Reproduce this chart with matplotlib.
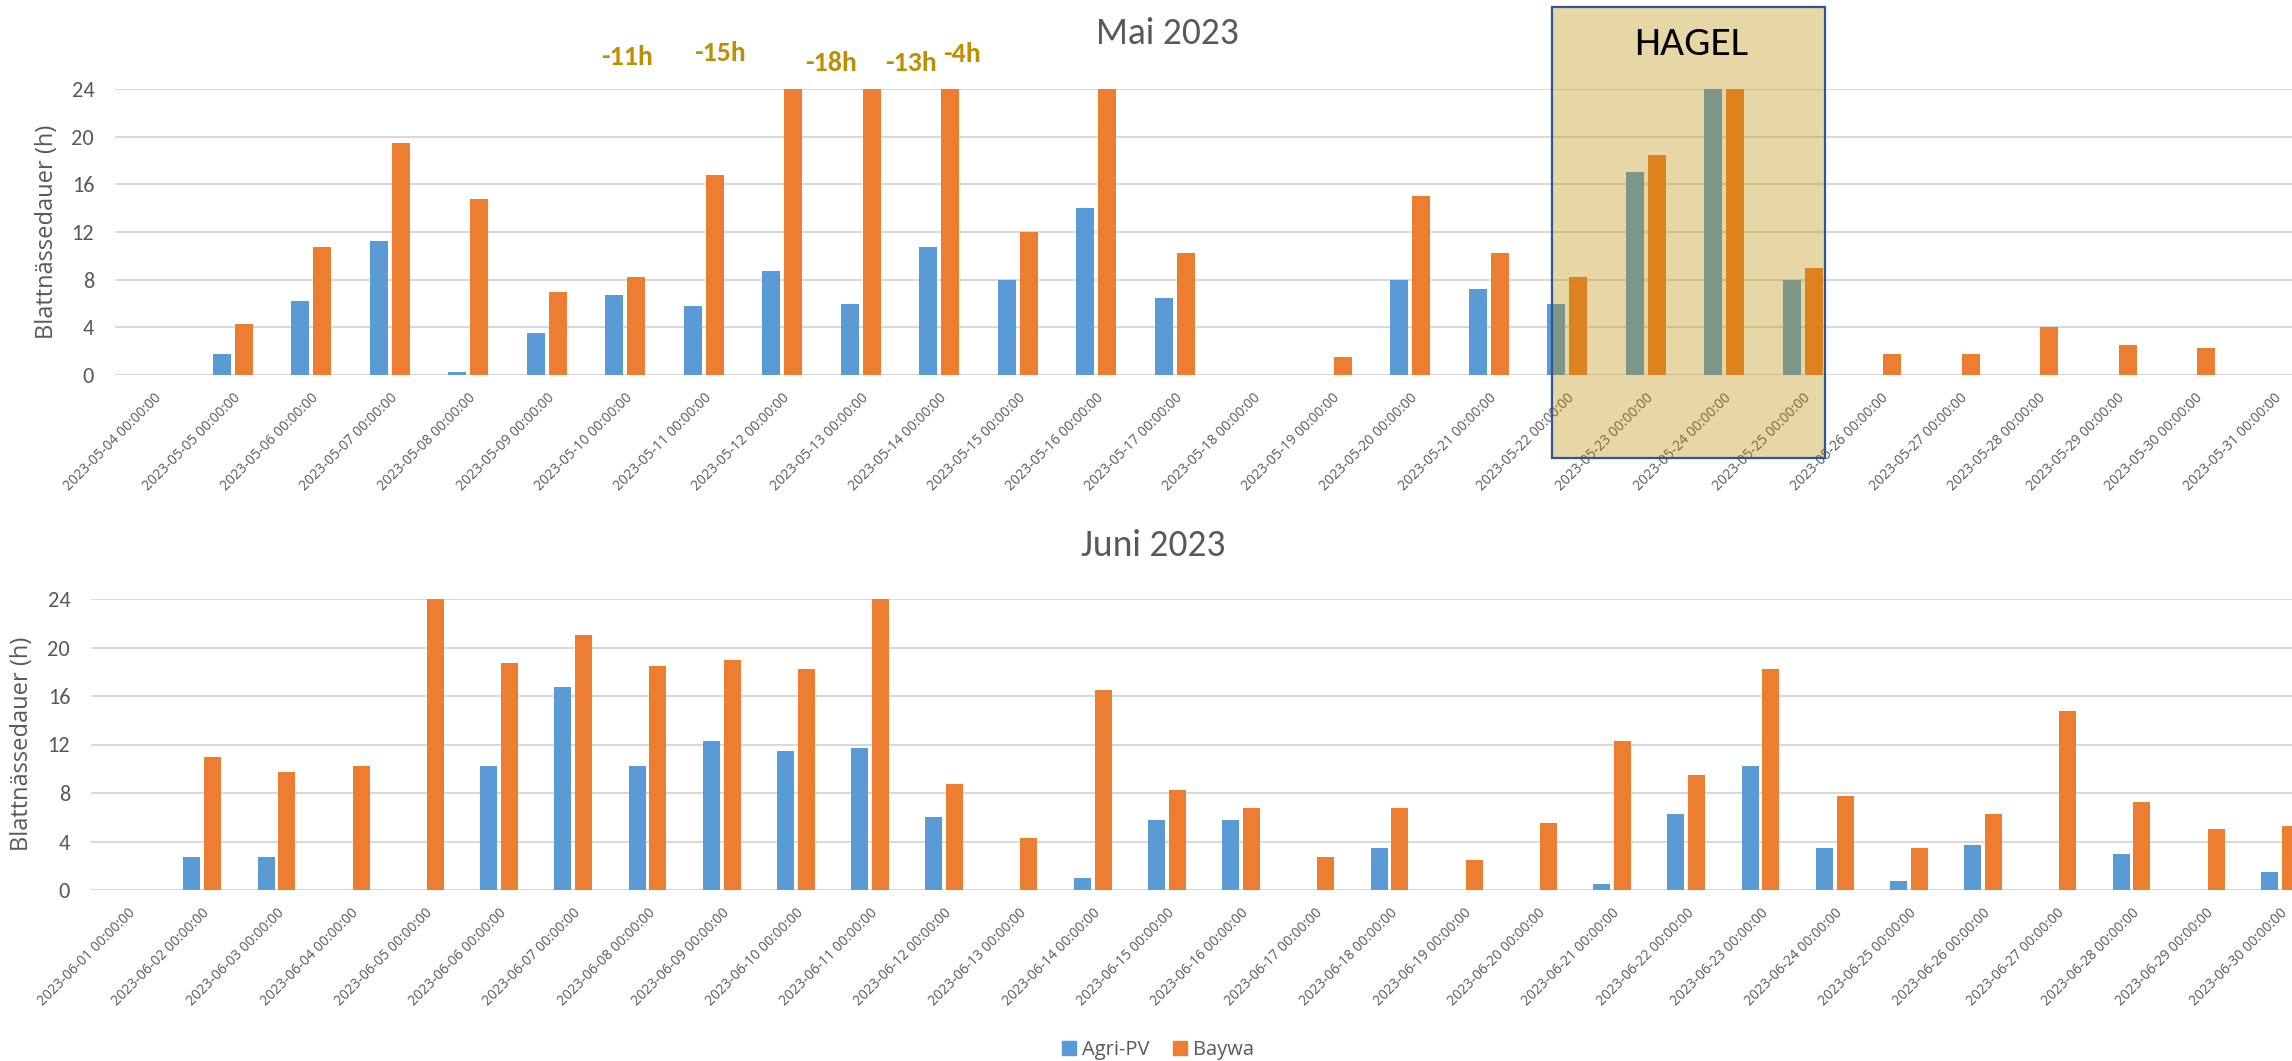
import numpy as np
import pandas as pd
import matplotlib
matplotlib.use("Agg")
import matplotlib.pyplot as plt
from matplotlib import font_manager
from matplotlib.patches import Rectangle, Patch
from matplotlib.transforms import blended_transform_factory

# ---------------------------------------------------------
# data  (Blattnässedauer in h)
# ---------------------------------------------------------
mai_days  = pd.date_range("2023-05-04", "2023-05-31", freq="D")
juni_days = pd.date_range("2023-06-01", "2023-06-30", freq="D")
mai_labels  = [d.strftime("%Y-%m-%d %H:%M:%S") for d in mai_days]
juni_labels = [d.strftime("%Y-%m-%d %H:%M:%S") for d in juni_days]

mai_agri  = [0, 1.75, 6.25, 11.25, 0.25, 3.5, 6.75, 5.75, 8.75, 6.0,
             10.75, 8.0, 14.0, 6.5, 0, 0, 8.0, 7.25, 6.0, 17.0,
             24, 8.0, 0, 0, 0, 0, 0, 0]
mai_baywa = [0, 4.25, 10.75, 19.5, 14.75, 7.0, 8.25, 16.75, 24, 24,
             24, 12.0, 24, 10.25, 0, 1.5, 15.0, 10.25, 8.25, 18.5,
             24, 9.0, 1.75, 1.75, 4.0, 2.5, 2.25, 0]

juni_agri  = [0, 2.75, 2.75, 0, 0, 10.25, 16.75, 10.25, 12.25, 11.5,
              11.75, 6.0, 0, 1.0, 5.75, 5.75, 0, 3.5, 0, 0,
              0.5, 6.25, 10.25, 3.5, 0.75, 3.75, 0, 3.0, 0, 1.5]
juni_baywa = [0, 11.0, 9.75, 10.25, 24, 18.75, 21.0, 18.5, 19.0, 18.25,
              24, 8.75, 4.25, 16.5, 8.25, 6.75, 2.75, 6.75, 2.5, 5.5,
              12.25, 9.5, 18.25, 7.75, 3.5, 6.25, 14.75, 7.25, 5.0, 5.25]

# time lost vs. Baywa, written above some May days
note_text = ["-11h", "-15h", "-18h", "-13h", "-4h"]

# ---------------------------------------------------------
# style / layout
# ---------------------------------------------------------
avail = {f.name for f in font_manager.fontManager.ttflist}
def pick(*names):
    return next((n for n in names if n in avail), "DejaVu Sans")

CAL  = pick("Carlito", "Lato", "Open Sans")      # Calibri look-alike
SEG  = pick("Open Sans", "Noto Sans", "DejaVu Sans")  # Segoe look-alike

BLUE, ORANGE = "#5B9BD5", "#ED7D31"
GREY, GRID   = "#595959", "#D9D9D9"
GOLD, FRAME  = "#BF8F00", "#2F5597"

W, H = 2292, 1061
fig = plt.figure(figsize=(W / 100, H / 100), dpi=100)

def px_axes(left, right, top, bottom):
    return fig.add_axes([left / W, 1 - bottom / H,
                         (right - left) / W, (bottom - top) / H])

def bars(ax, agri, baywa, labels):
    x = np.arange(len(labels))
    ax.bar(x - 0.14, agri,  width=0.23, color=BLUE,   zorder=3)
    ax.bar(x + 0.14, baywa, width=0.23, color=ORANGE, zorder=3)
    ax.set_xlim(-0.5, len(labels) - 0.5)
    ax.set_ylim(0, 24)
    ax.set_yticks(range(0, 25, 4))
    ax.set_xticks(x)
    ax.set_xticklabels(labels, rotation=45, ha="right", va="top",
                       rotation_mode="anchor", fontsize=10,
                       color=GREY, family=SEG)
    for t in ax.get_yticklabels():
        t.set_family(CAL); t.set_fontsize(16); t.set_color(GREY)
    ax.tick_params(axis="both", length=0)
    ax.tick_params(axis="x", pad=11)
    ax.tick_params(axis="y", pad=15)
    ax.grid(axis="y", color=GRID, linewidth=1.5, zorder=0)
    ax.set_axisbelow(True)
    for s in ax.spines.values():
        s.set_visible(False)
    ax.set_facecolor("none")

# ---------------------------------------------------------
# Mai
# ---------------------------------------------------------
ax1 = px_axes(115, 2313, 89, 375)
bars(ax1, mai_agri, mai_baywa, mai_labels)

note_x = [6.02, 7.20, 8.62, 9.64, 10.29]
note_y = [26.7, 27.0, 26.2, 26.2, 26.9]
for s, xx, yy in zip(note_text, note_x, note_y):
    ax1.text(xx, yy, s, ha="center", va="center", color=GOLD,
             fontsize=20, fontweight="bold", family=CAL, clip_on=False)

# hail period overlay (22.-25. Mai)
tr = blended_transform_factory(ax1.transData, fig.transFigure)
y0, y1 = 1 - 458 / H, 1 - 7 / H
ax1.add_patch(Rectangle((17.80, y0), 21.28 - 17.80, y1 - y0, transform=tr,
                        facecolor=(0.749, 0.561, 0.0, 0.35),
                        edgecolor=FRAME, linewidth=1.6,
                        clip_on=False, zorder=6))
fig.text(1691 / W, 1 - 44 / H, "HAGEL", ha="center", va="center",
         fontsize=30, color="black", family=CAL)

fig.text(1167 / W, 1 - 34 / H, "Mai 2023", ha="center", va="center",
         fontsize=27, color=GREY, family=CAL)
fig.text(47 / W, 1 - 232 / H, "Blattnässedauer (h)", rotation=90,
         ha="center", va="center", fontsize=17, color=GREY, family=SEG)

# ---------------------------------------------------------
# Juni
# ---------------------------------------------------------
ax2 = px_axes(91, 2317, 599, 890)
bars(ax2, juni_agri, juni_baywa, juni_labels)

fig.text(1153 / W, 1 - 545 / H, "Juni 2023", ha="center", va="center",
         fontsize=27, color=GREY, family=CAL)
fig.text(22 / W, 1 - 744 / H, "Blattnässedauer (h)", rotation=90,
         ha="center", va="center", fontsize=17, color=GREY, family=SEG)

# ---------------------------------------------------------
# legend
# ---------------------------------------------------------
handles = [Patch(color=BLUE, label="Agri-PV"), Patch(color=ORANGE, label="Baywa")]
leg = fig.legend(handles=handles, loc="center", ncol=2, frameon=False,
                 bbox_to_anchor=(1158 / W, 1 - 1050 / H),
                 handlelength=0.7, handleheight=0.7, handletextpad=0.3,
                 columnspacing=1.2, prop={"family": SEG, "size": 14.5})
for t in leg.get_texts():
    t.set_color(GREY)

fig.savefig("out.png", dpi=100)
